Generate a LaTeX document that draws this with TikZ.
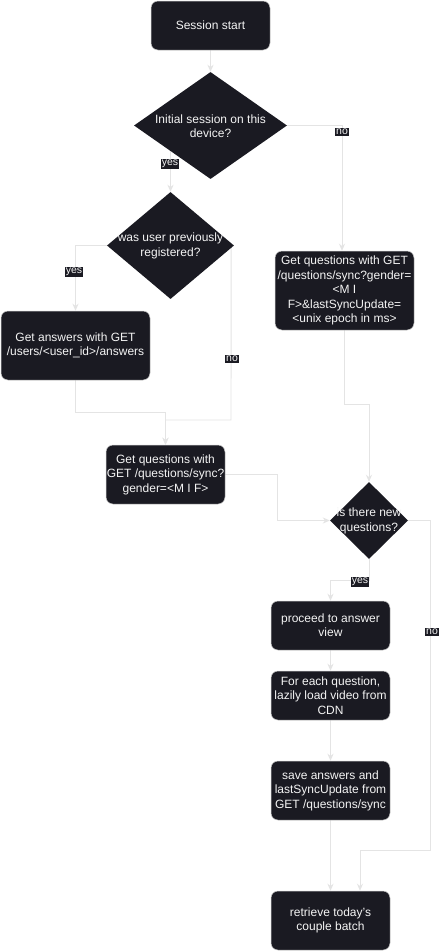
\documentclass[tikz,border=0pt]{standalone}
\usepackage{fontspec}
\setmainfont{Liberation Sans}
\usetikzlibrary{shapes.geometric,arrows.meta,calc}
\definecolor{nodefill}{HTML}{1A1A22}
\definecolor{nodeborder}{HTML}{CFCFCF}
\definecolor{edgecol}{HTML}{E4E4E4}
\definecolor{txt}{HTML}{F4F4F4}
\pgfdeclarelayer{bg}
\pgfdeclarelayer{paper}
\pgfsetlayers{paper,bg,main}
\tikzset{
  box/.style={draw=nodeborder, line width=0.5pt, fill=nodefill, rounded corners=7pt,
    text=txt, align=center, inner sep=0pt,
    font=\fontsize{12}{14.4}\selectfont},
  diatext/.style={text=txt, align=center, inner sep=0pt, font=\fontsize{12}{14.4}\selectfont},
  conn/.style={draw=edgecol, line width=0.9pt, -{Stealth[length=7pt,width=6pt]}},
  lbl/.style={fill=nodefill, text=txt, inner sep=0.8pt, font=\fontsize{10.5}{11}\selectfont}
}
\begin{document}
\begin{tikzpicture}[x=1pt,y=-1pt]
\useasboundingbox (0,0) rectangle (439,951);
\begin{pgfonlayer}{paper}
\fill[white] (0,0) rectangle (439,951);
\end{pgfonlayer}

% process boxes
\node[box, minimum width=119, minimum height=49] (start) at (210.5,25.5) {Session start};
\node[box, minimum width=149, minimum height=69] (ans) at (75.5,345.5) {Get answers with GET\\/users/<user\_id>/answers};
\node[box, minimum width=139, minimum height=79] (rq) at (344.5,290.5) {Get questions with GET\\/questions/sync?gender=\\<M I\\F>\&lastSyncUpdate=\\<unix epoch in ms>};
\node[box, minimum width=119, minimum height=59] (gq) at (165.5,474.5) {Get questions with\\GET /questions/sync?\\gender=<M I F>};
\node[box, minimum width=119, minimum height=49] (pv) at (330.5,625.5) {proceed to answer\\view};
\node[box, minimum width=119, minimum height=49] (lv) at (330.5,695.5) {For each question,\\lazily load video from\\CDN};
\node[box, minimum width=119, minimum height=59] (sv) at (330.5,790.5) {save answers and\\lastSyncUpdate from\\GET /questions/sync};
\node[box, minimum width=119, minimum height=59] (rt) at (330.5,920.5) {retrieve today's\\couple batch};

% decisions
\node[diamond, fill=nodefill, inner sep=0pt, minimum width=153, minimum height=107] (d1) at (210.5,125.5) {};
\node[diatext] (d1t) at (210.5,126) {Initial session on this\\device?};
\node[diamond, fill=nodefill, inner sep=0pt, minimum width=127, minimum height=107] (d2) at (170.5,245.5) {};
\node[diatext] (d2t) at (170.5,246) {was user previously\\registered?};
\node[diamond, fill=nodefill, inner sep=0pt, minimum width=78, minimum height=77] (d3) at (369,520.5) {};
\node[diatext] (d3t) at (369,521) {is there new\\questions?};

% connectors
\begin{pgfonlayer}{bg}
\draw[conn] (start.south) -- (d1.north);
\draw[conn] (d1.east) -- (342,125.5) -- (rq.north -| 342,0);
\draw[conn] (d2.north |- d1.center) -- (d2.north);
\draw[conn] (d2.west) -| (ans.north);
\draw[conn] ([xshift=-3pt]d2.east) -- (231,420) -- (gq.north |- 0,420) -- (gq.north);
\draw[conn] (ans.south) -- (ans.south |- 0,412) -- (gq.north |- 0,412) -- (gq.north);
\draw[conn] (rq.south) -- (rq.south |- 0,404) -| (d3.north);
\draw[conn] (gq.east) -- (gq.east -| 277,0) |- (d3.west);
\draw[conn] (d3.east) -| (430,850) -| ([xshift=29.5pt]rt.north);
\draw[conn] (d3.south) -- (d3.south |- 0,580) -| (pv.north);
\draw[conn] (pv.south) -- (lv.north);
\draw[conn] (lv.south) -- (sv.north);
\draw[conn] (sv.south) -- (rt.north);
\end{pgfonlayer}

% edge labels
\node[lbl] (l1) at (342,132) {no};
\node[lbl] (l2) at (170,164) {yes};
\node[lbl] (l3) at (74,272) {yes};
\node[lbl] (l4) at (232,359) {no};
\node[lbl] (l5) at (360,582) {yes};
\node[lbl] (l6) at (432,632) {no};
\end{tikzpicture}
\end{document}
